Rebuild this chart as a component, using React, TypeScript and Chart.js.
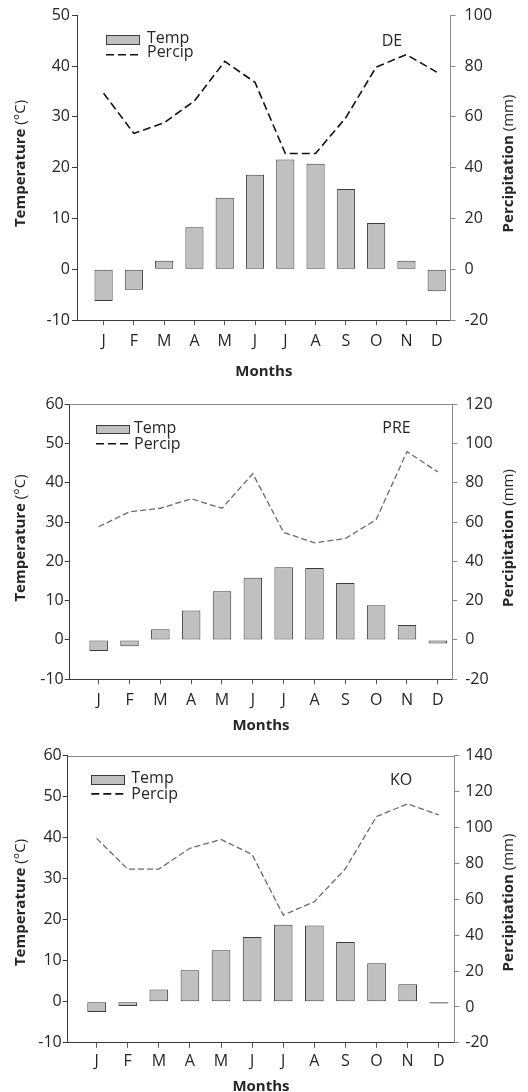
import { useEffect, useRef } from "react";
import { Chart, registerables } from "chart.js";

Chart.register(...registerables);

// ---- data -------------------------------------------------------------
const months = ["J", "F", "M", "A", "M", "J", "J", "A", "S", "O", "N", "D"];

const deTemp = [-6.2, -4.0, 1.7, 8.3, 14.1, 18.6, 21.6, 20.8, 15.8, 9.1, 1.7, -4.3];
const dePrecip = [69.3, 53.5, 57.7, 66.3, 81.8, 73.6, 45.6, 45.6, 59.7, 79.6, 84.5, 77.6];

const preTemp = [-2.8, -1.6, 2.7, 7.5, 12.4, 15.8, 18.5, 18.3, 14.5, 8.8, 3.8, -0.9];
const prePrecip = [57.6, 65.2, 67.0, 71.8, 67.0, 84.6, 54.7, 49.4, 51.6, 61.2, 95.8, 85.5];

const koTemp = [-2.5, -1.0, 3.0, 7.7, 12.6, 15.8, 18.8, 18.6, 14.6, 9.4, 4.3, -0.4];
const koPrecip = [94.0, 76.9, 76.9, 88.5, 93.4, 85.0, 51.2, 58.7, 77.1, 106.2, 113.3, 107.1];

// ---- styling ----------------------------------------------------------
const FONT = "'Open Sans', 'Liberation Sans', sans-serif";
const TICK_SIZE = 16;
const TITLE_SIZE = 15;
const TEXT = "#262626";
const DARK_AXIS = "#3a3a3a";
const GRAY_AXIS = "#8a8a8a";
const BAR_FILL = "#c0c0c0";
const BAR_EDGE = "#3c3c3c";

interface Panel {
  station: string;
  temp: number[];
  precip: number[];
  tempMax: number;
  precipMax: number;
  top: number;
  height: number;
  area: { left: number; right: number; top: number; bottom: number };
  xMin: number;
  xMax: number;
  yPad: number;
  y1Pad: number;
  xPad: number;
  monthsY: number;
  titleY: number;
  frameTop: boolean;
  line: { color: string; width: number; dash: number[] };
  legend: { x: number; y: number; h: number; tx: number; b1: number; ly: number; b2: number };
  label: { dx: number; dy: number };
}

const panels: Panel[] = [
  {
    station: "DE",
    temp: deTemp,
    precip: dePrecip,
    tempMax: 50,
    precipMax: 100,
    top: 0,
    height: 385,
    area: { left: 77, right: 450.6, top: 15.2, bottom: 320.2 },
    xMin: -0.878,
    xMax: 11.459,
    yPad: 2,
    y1Pad: 9,
    xPad: 7,
    monthsY: 371.8,
    titleY: 163.5,
    frameTop: false,
    line: { color: "#111111", width: 1.6, dash: [8, 4] },
    legend: { x: 29, y: 19.5, h: 9, tx: 70, b1: 27.5, ly: 39.5, b2: 42 },
    label: { dx: 58.6, dy: 26.2 },
  },
  {
    station: "PRE",
    temp: preTemp,
    precip: prePrecip,
    tempMax: 60,
    precipMax: 120,
    top: 385,
    height: 345,
    area: { left: 69.7, right: 452.2, top: 19.1, bottom: 294.2 },
    xMin: -0.94,
    xMax: 11.467,
    yPad: 1,
    y1Pad: 8,
    xPad: 7,
    monthsY: 340.5,
    titleY: 153,
    frameTop: true,
    line: { color: "#6a6a6a", width: 1.3, dash: [6, 3] },
    legend: { x: 26.3, y: 21, h: 8, tx: 64.3, b1: 29.3, ly: 39.7, b2: 45 },
    label: { dx: 55.7, dy: 24.3 },
  },
  {
    station: "KO",
    temp: koTemp,
    precip: koPrecip,
    tempMax: 60,
    precipMax: 140,
    top: 730,
    height: 362,
    area: { left: 67.7, right: 454.3, top: 25.9, bottom: 312.8 },
    xMin: -0.93,
    xMax: 11.5,
    yPad: 1,
    y1Pad: 6,
    xPad: 4.5,
    monthsY: 356.3,
    titleY: 172.5,
    frameTop: true,
    line: { color: "#6a6a6a", width: 1.3, dash: [6, 3] },
    legend: { x: 23.6, y: 19, h: 9, tx: 63.6, b1: 27, ly: 38, b2: 43 },
    label: { dx: 53.3, dy: 24.6 },
  },
];

// Axis titles with a bold word followed by a regular unit.
function drawMixed(
  ctx: CanvasRenderingContext2D,
  x: number,
  y: number,
  bold: string,
  normal: string,
  rotate: boolean
) {
  ctx.save();
  ctx.translate(x, y);
  if (rotate) ctx.rotate(-Math.PI / 2);
  ctx.fillStyle = TEXT;
  ctx.textBaseline = "middle";
  ctx.textAlign = "left";
  ctx.font = `bold ${TITLE_SIZE}px ${FONT}`;
  const w1 = ctx.measureText(bold).width;
  ctx.font = `${TITLE_SIZE}px ${FONT}`;
  const w2 = ctx.measureText(normal).width;
  const start = -(w1 + w2) / 2;
  ctx.font = `bold ${TITLE_SIZE}px ${FONT}`;
  ctx.fillText(bold, start, 0);
  ctx.font = `${TITLE_SIZE}px ${FONT}`;
  ctx.fillText(normal, start + w1, 0);
  ctx.restore();
}

// In-plot legend, station tag, top frame line and axis titles.
function makeDecorations(p: Panel) {
  return {
    id: "decorations" + p.station,
    afterDraw(chart: Chart) {
      const { ctx, chartArea: a } = chart;
      ctx.save();

      if (p.frameTop) {
        ctx.strokeStyle = GRAY_AXIS;
        ctx.lineWidth = 1;
        ctx.beginPath();
        ctx.moveTo(a.left, Math.round(a.top) + 0.5);
        ctx.lineTo(a.right, Math.round(a.top) + 0.5);
        ctx.stroke();
      }

      const lg = p.legend;
      const sx = Math.round(a.left + lg.x) + 0.5;
      const sy = Math.round(a.top + lg.y) + 0.5;
      ctx.fillStyle = BAR_FILL;
      ctx.fillRect(sx, sy, 33, lg.h);
      ctx.strokeStyle = BAR_EDGE;
      ctx.lineWidth = 1;
      ctx.strokeRect(sx, sy, 33, lg.h);

      ctx.strokeStyle = "#111111";
      ctx.lineWidth = 1.6;
      ctx.setLineDash([8, 4]);
      ctx.beginPath();
      ctx.moveTo(a.left + lg.x, a.top + lg.ly);
      ctx.lineTo(a.left + lg.x + 33, a.top + lg.ly);
      ctx.stroke();
      ctx.setLineDash([]);

      ctx.fillStyle = TEXT;
      ctx.font = `${TICK_SIZE}px ${FONT}`;
      ctx.textAlign = "left";
      ctx.textBaseline = "alphabetic";
      const names = chart.data.datasets.map((d) => d.label as string);
      ctx.fillText(names[0], a.left + lg.tx, a.top + lg.b1);
      ctx.fillText(names[1], a.left + lg.tx, a.top + lg.b2);

      ctx.textAlign = "center";
      ctx.textBaseline = "middle";
      ctx.fillText(p.station, a.right - p.label.dx, a.top + p.label.dy);

      ctx.restore();

      drawMixed(ctx, 20.5, p.titleY, "Temperature", " (°C)", true);
      drawMixed(ctx, 509, p.titleY, "Percipitation", " (mm)", true);
      drawMixed(ctx, (a.left + a.right) / 2, p.monthsY, "Months", "", false);
    },
  };
}

function ClimateChart({ p }: { p: Panel }) {
  const ref = useRef<HTMLCanvasElement | null>(null);

  useEffect(() => {
    if (!ref.current) return;
    const tickFont = { family: FONT, size: TICK_SIZE };
    const chart = new Chart(ref.current, {
      type: "bar",
      data: {
        datasets: [
          {
            type: "bar",
            label: "Temp",
            data: p.temp.map((v, i) => ({ x: i, y: v })),
            backgroundColor: BAR_FILL,
            borderColor: BAR_EDGE,
            borderWidth: 1,
            borderSkipped: false,
            barPercentage: 0.6,
            categoryPercentage: 1,
            yAxisID: "y",
            order: 2,
          },
          {
            type: "line",
            label: "Percip",
            data: p.precip.map((v, i) => ({ x: i, y: v })),
            borderColor: p.line.color,
            borderWidth: p.line.width,
            borderDash: p.line.dash,
            pointRadius: 0,
            tension: 0,
            fill: false,
            yAxisID: "y1",
            order: 1,
          },
        ],
      } as any,
      options: {
        responsive: false,
        animation: false,
        devicePixelRatio: 1,
        layout: { padding: { top: p.area.top, left: 0, right: 0, bottom: 0 } },
        plugins: {
          legend: { display: false },
          tooltip: { enabled: false },
          title: { display: false },
        },
        scales: {
          x: {
            type: "linear",
            position: "bottom",
            offset: false,
            min: p.xMin,
            max: p.xMax,
            afterBuildTicks: (s: any) => {
              s.ticks = months.map((_, i) => ({ value: i }));
            },
            afterFit: (s: any) => {
              s.height = p.height - p.area.bottom;
              s.paddingLeft = 0;
              s.paddingRight = 0;
            },
            ticks: {
              font: tickFont,
              color: TEXT,
              padding: p.xPad,
              maxRotation: 0,
              autoSkip: false,
              callback: (v: any) => months[Number(v)] ?? "",
            },
            grid: {
              offset: false,
              drawOnChartArea: false,
              drawTicks: true,
              tickLength: 5,
              tickColor: "#555555",
            },
            border: { display: true, color: DARK_AXIS, width: 1 },
          },
          y: {
            type: "linear",
            position: "left",
            min: -10,
            max: p.tempMax,
            afterFit: (s: any) => {
              s.width = p.area.left;
              s.paddingTop = 0;
              s.paddingBottom = 0;
            },
            ticks: { stepSize: 10, font: tickFont, color: TEXT, padding: p.yPad },
            grid: {
              drawOnChartArea: false,
              drawTicks: true,
              tickLength: 5,
              tickColor: DARK_AXIS,
            },
            border: { display: true, color: DARK_AXIS, width: 1 },
          },
          y1: {
            type: "linear",
            position: "right",
            min: -20,
            max: p.precipMax,
            afterFit: (s: any) => {
              s.width = 528 - p.area.right;
              s.paddingTop = 0;
              s.paddingBottom = 0;
            },
            ticks: { stepSize: 20, font: tickFont, color: TEXT, padding: p.y1Pad },
            grid: {
              drawOnChartArea: false,
              drawTicks: true,
              tickLength: 5,
              tickColor: GRAY_AXIS,
            },
            border: { display: true, color: GRAY_AXIS, width: 1 },
          },
        },
      } as any,
      plugins: [makeDecorations(p)],
    });
    return () => chart.destroy();
  }, [p]);

  return (
    <div style={{ position: "absolute", left: 0, top: p.top, width: 528, height: p.height }}>
      <canvas ref={ref} width={528} height={p.height} style={{ display: "block" }} />
    </div>
  );
}

export default function App() {
  return (
    <div
      style={{
        position: "absolute",
        left: 0,
        top: 0,
        width: 528,
        height: 1092,
        background: "#ffffff",
        overflow: "hidden",
      }}
    >
      {panels.map((p) => (
        <ClimateChart key={p.station} p={p} />
      ))}
    </div>
  );
}
